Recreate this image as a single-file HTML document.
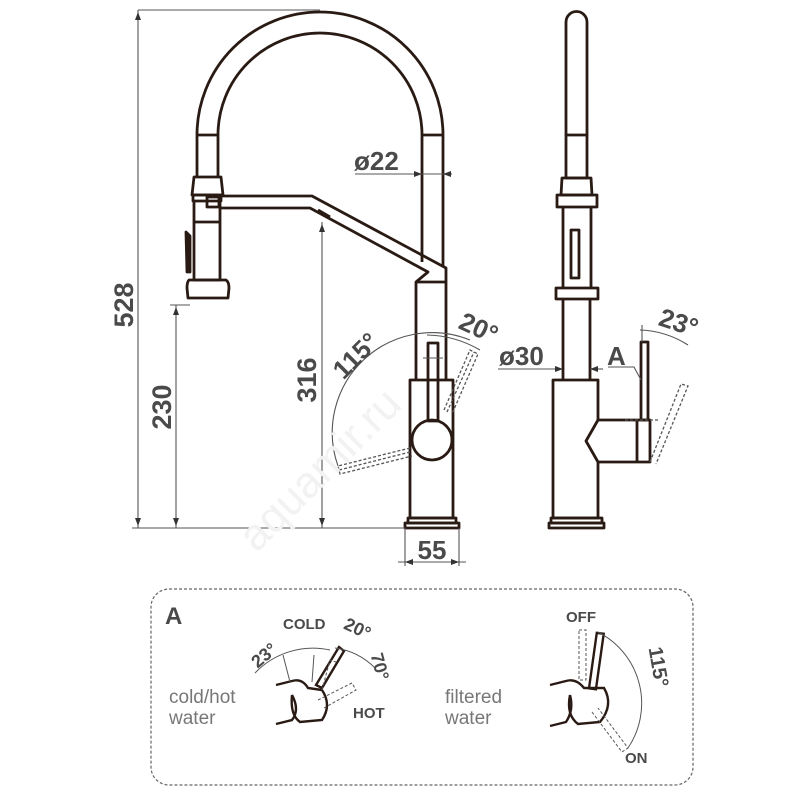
<!DOCTYPE html>
<html><head><meta charset="utf-8"><style>
html,body{margin:0;padding:0;background:#fff}
svg{display:block}
.d{font-family:"Liberation Sans",sans-serif;font-weight:bold;fill:#4a4a4a}
.l{font-family:"Liberation Sans",sans-serif;fill:#777}
</style></head><body>
<svg width="800" height="800" viewBox="0 0 800 800" xmlns="http://www.w3.org/2000/svg">
<g fill="none" stroke="#2a1a14" stroke-width="2.8" stroke-linejoin="round">
<path d="M197 135 A123 123 0 0 1 443 135"/>
<path d="M218 135 A102 102 0 0 1 422 135"/>
<line x1="197" y1="135" x2="218" y2="135"/><line x1="422" y1="135" x2="443" y2="135"/>
<line x1="197" y1="135" x2="197" y2="177"/><line x1="218" y1="135" x2="218" y2="177"/>
<line x1="422" y1="135" x2="422" y2="262"/><line x1="443" y1="135" x2="443" y2="266"/>
<path d="M194 177 L221 177 L223 195 L192 195 Z"/>
<rect x="193" y="195" width="28" height="6"/>
<path d="M194 201 L194 280 L220 280 L220 201"/>
<line x1="194" y1="222" x2="220" y2="222"/>
<path d="M189 280 L226 280 Q229 282 229 288 L228 298 L188 298 L187 288 Q187 282 189 280 Z"/>
<path d="M186 232 L190 236 L190 272 L187 272 Z" fill="#2a1a14"/>
<rect x="207" y="197" width="12" height="10"/>
<path d="M219 196 L312 196 L446 268 L446 380"/>
<path d="M219 208 L310 208 L428 272 L416 282 L416 380"/>
<line x1="416" y1="282" x2="446" y2="282"/>
<line x1="318" y1="210" x2="330" y2="217"/>
<rect x="410" y="380" width="43" height="138"/>
<rect x="408" y="518" width="48" height="5"/>
<path d="M405 523 L459 523 L459 528 L405 528 Z"/>
<rect x="428" y="343" width="10" height="78"/>
<circle cx="432" cy="440" r="20"/>
<path d="M566 135 L566 22 A10.5 10.5 0 0 1 587 22 L587 135 Z"/>
<path d="M566 135 L566 178 L587 178 L587 135"/>
<path d="M562 178 L591 178 L592 195 L561 195 Z"/>
<rect x="557" y="195" width="40" height="12"/>
<path d="M563 207 L563 288 M591 207 L591 288"/>
<rect x="571" y="230" width="8" height="48"/>
<rect x="556" y="288" width="42" height="11"/>
<path d="M563 299 L563 380 M590 299 L590 380"/>
<rect x="553" y="380" width="45" height="138"/>
<rect x="551" y="518" width="51" height="5"/>
<rect x="549" y="523" width="55" height="5"/>
<path d="M598 420 L650 420 L650 462 L598 462 L586 441 Z" fill="#fff"/>
<line x1="637" y1="420" x2="637" y2="462"/>
<rect x="641" y="342" width="7" height="78"/>
</g>
<g fill="none" stroke="#555" stroke-width="1.3" stroke-dasharray="3,2">
<path d="M444 410 L470 350 L478 354 L452 414"/>
<path d="M447 412 L474 352"/>
<path d="M410 448 L338 466 L340 474 L412 456"/>
<path d="M410 452 L339 470"/>
<path d="M650 462 L681 384 L688 386 L656 464"/>
<line x1="625" y1="420" x2="660" y2="420"/>
</g>
<g fill="none" stroke="#555" stroke-width="1.1">
<path d="M338 466 A100 100 0 0 1 470 340"/>
<path d="M427 335 A110 110 0 0 1 480 350"/>
<path d="M640 330 A95 95 0 0 1 688 345"/>
<line x1="642" y1="342" x2="642" y2="325"/>
<line x1="138" y1="10" x2="320" y2="10"/>
<line x1="138" y1="10" x2="138" y2="528"/>
<line x1="176" y1="305" x2="176" y2="528"/>
<line x1="170" y1="305" x2="190" y2="305"/>
<line x1="322" y1="222" x2="322" y2="528"/>
<line x1="132" y1="528" x2="405" y2="528"/>
<line x1="405" y1="528" x2="405" y2="566"/>
<line x1="459" y1="528" x2="459" y2="566"/>
<line x1="398" y1="562" x2="466" y2="562"/>
<line x1="355" y1="174" x2="452" y2="174"/>
<line x1="423" y1="358" x2="443" y2="358"/>
<line x1="498" y1="369" x2="560" y2="369"/>
<line x1="590" y1="369" x2="603" y2="369"/>
<path d="M608 367 L634 367 L641 380"/>
</g>
<g fill="#333">
<path d="M138 12 L135 20 L141 20 Z"/><path d="M138 526 L135 518 L141 518 Z"/>
<path d="M176 307 L173 315 L179 315 Z"/><path d="M176 526 L173 518 L179 518 Z"/>
<path d="M322 224 L319 232 L325 232 Z"/><path d="M322 526 L319 518 L325 518 Z"/>
<path d="M405 562 L413 559 L413 565 Z"/><path d="M459 562 L451 559 L451 565 Z"/>
<path d="M422 174 L414 171 L414 177 Z"/><path d="M443 174 L451 171 L451 177 Z"/>
<path d="M563 369 L555 366 L555 372 Z"/><path d="M590 369 L598 366 L598 372 Z"/>
</g>
<text class="d" font-size="27" transform="translate(133,305) rotate(-90)" text-anchor="middle">528</text>
<text class="d" font-size="27" transform="translate(171,407) rotate(-90)" text-anchor="middle">230</text>
<text class="d" font-size="27" transform="translate(316,380) rotate(-90)" text-anchor="middle">316</text>
<text class="d" font-size="26" x="354" y="170">ø22</text>
<text class="d" font-size="26" x="432" y="559" text-anchor="middle">55</text>
<text class="d" font-size="26" transform="translate(362,362) rotate(-45)" text-anchor="middle">115°</text>
<text class="d" font-size="26" transform="translate(475,336) rotate(25)" text-anchor="middle">20°</text>
<text class="d" font-size="26" x="499" y="365">ø30</text>
<text class="d" font-size="26" x="607" y="365">A</text>
<text class="d" font-size="26" transform="translate(676,331) rotate(18)" text-anchor="middle">23°</text>
<rect x="151" y="589" width="542" height="196" rx="18" fill="none" stroke="#666" stroke-width="1.2" stroke-dasharray="3,2"/>
<text class="d" font-size="24" x="165" y="624" fill="#333">A</text>
<text class="d" font-size="15" x="283" y="629">COLD</text>
<text class="d" font-size="18" transform="translate(355,634) rotate(25)" text-anchor="middle">20°</text>
<text class="d" font-size="18" transform="translate(374,668) rotate(75)" text-anchor="middle">70°</text>
<text class="d" font-size="18" transform="translate(268,660) rotate(-40)" text-anchor="middle">23°</text>
<text class="d" font-size="15" x="353" y="718">HOT</text>
<text class="l" font-size="19" x="169" y="703">cold/hot</text>
<text class="l" font-size="19" x="169" y="724">water</text>
<text class="l" font-size="19" x="445" y="703">filtered</text>
<text class="l" font-size="19" x="445" y="724">water</text>
<text class="d" font-size="15" x="566" y="622">OFF</text>
<text class="d" font-size="15" x="625" y="763">ON</text>
<text class="d" font-size="20" transform="translate(652,668) rotate(80)" text-anchor="middle">115°</text>
<g fill="none" stroke="#2a1a14" stroke-width="2.4">
<path d="M276 685 L292 681 Q302 678 308 688 L322 690 Q332 705 322 720 L300 722 Q290 715 292 695"/>
<path d="M276 724 L292 720 Q300 710 292 695"/>
<path d="M316 685 L339 647 L344 651 L322 688 Z"/>
<path d="M550 685 L566 681 Q576 678 584 688 L604 688 Q614 705 600 722 L578 724 Q566 715 570 695"/>
<path d="M550 726 L566 722 Q574 710 570 695"/>
<rect x="593" y="633" width="7" height="56" transform="rotate(8 596 660)"/>
</g>
<g fill="none" stroke="#555" stroke-width="1" stroke-dasharray="3,2">
<path d="M322 690 L330 660 L336 662"/>
<path d="M318 700 L352 683 L356 690 L324 708"/>
<rect x="579" y="630" width="7" height="50"/>
<path d="M592 712 L622 752 L628 748 L598 708"/>
</g>
<g fill="none" stroke="#555" stroke-width="1">
<path d="M255 673 A80 80 0 0 1 330 650"/>
<path d="M335 648 A70 70 0 0 1 375 668"/>
<line x1="290" y1="682" x2="283" y2="655"/>
<line x1="312" y1="682" x2="314" y2="655"/>
<path d="M598 632 A80 80 0 0 1 628 748"/>
</g>
<text font-family="Liberation Sans,sans-serif" font-size="44" fill="#f2f2f2" transform="translate(330,480) rotate(-45)" text-anchor="middle">aquamir.ru</text>
</svg>
</body></html>
